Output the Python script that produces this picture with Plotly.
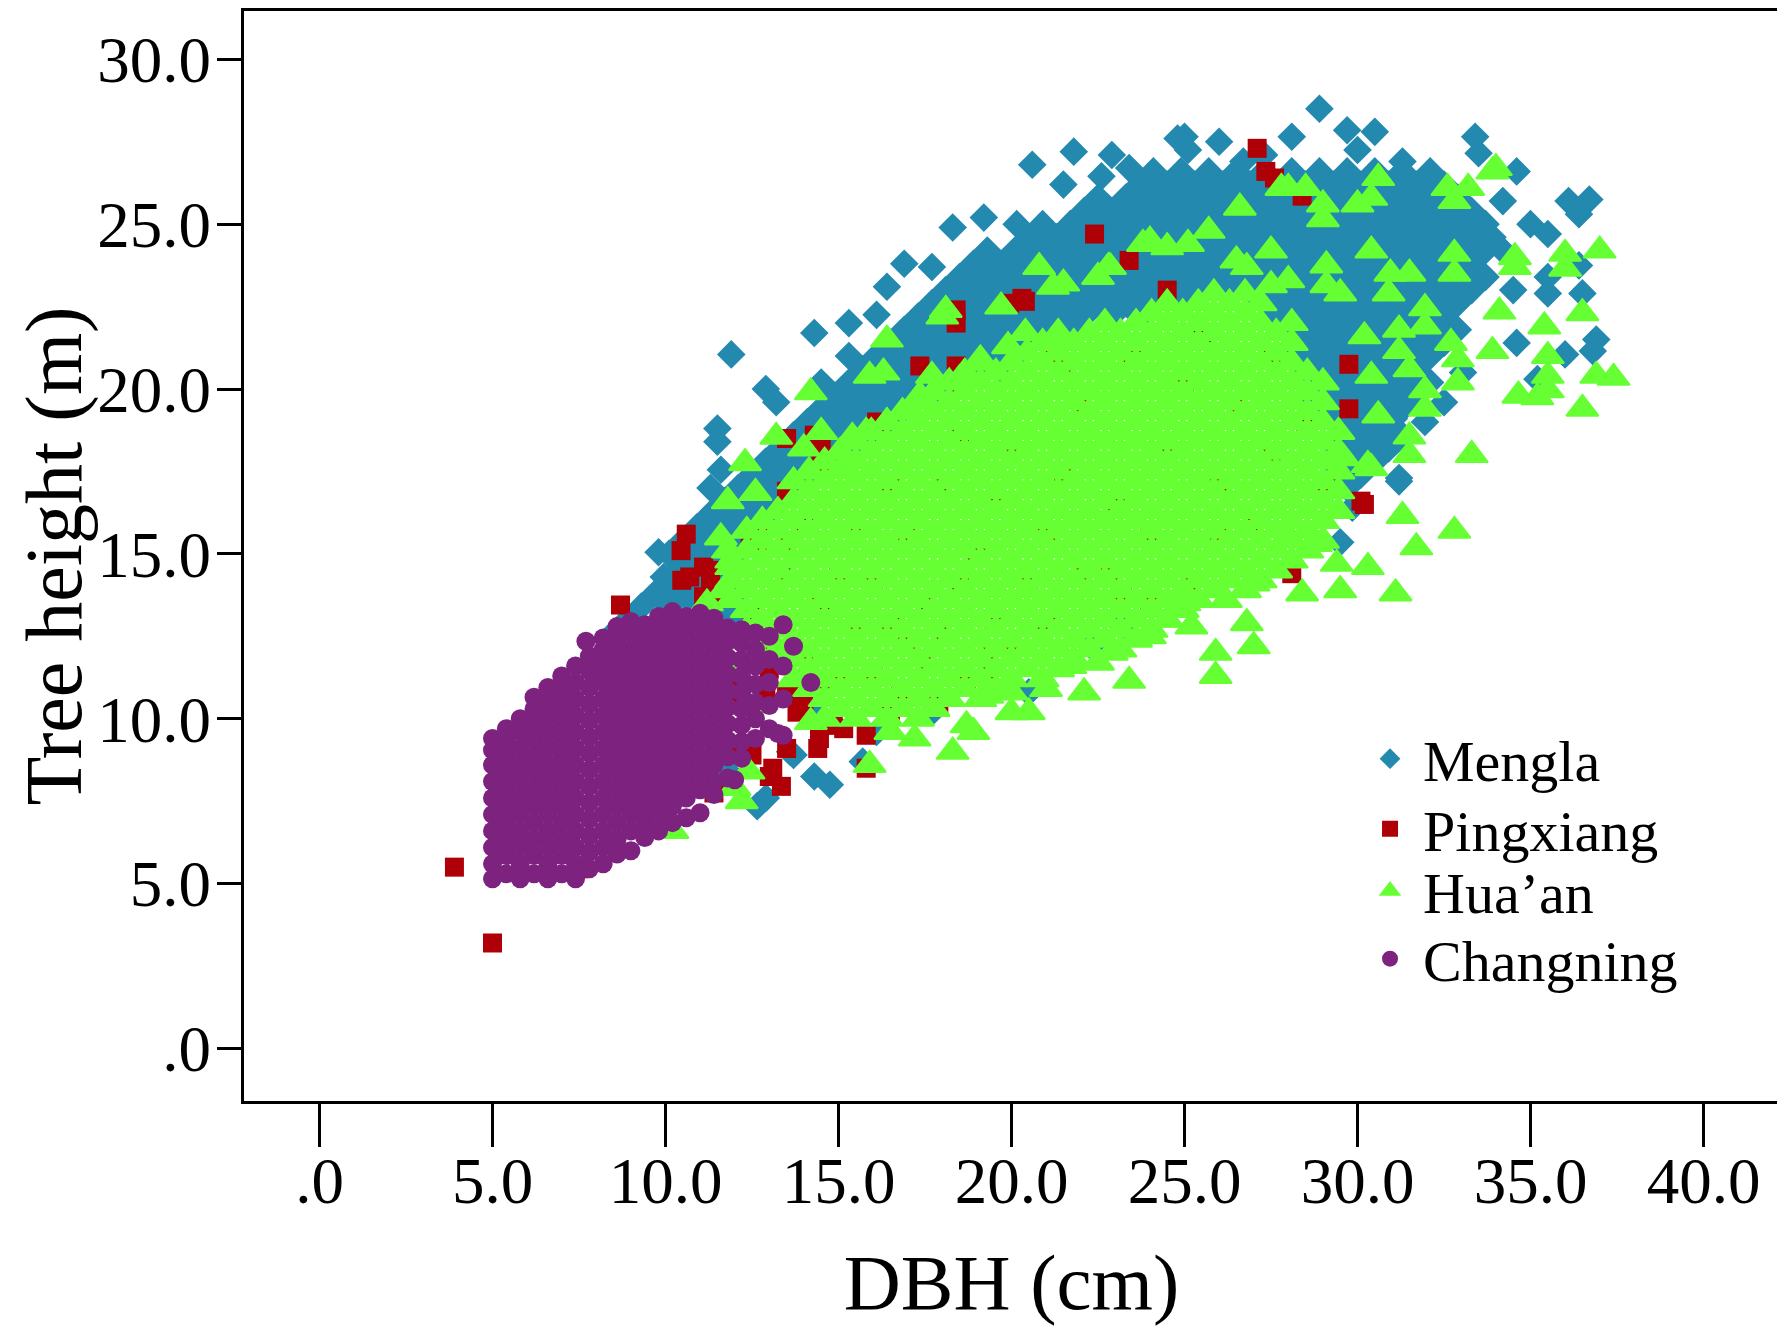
import plotly.graph_objects as go

# Tree height vs DBH (DBH cm, height m)
mengla = [
    (28.9,28.5),(29.7,27.85),(30.5,27.8),(30.0,27.25),(33.4,27.65),(33.5,27.15),(34.6,26.6),(28.1,27.65),
    (25.0,27.65),(26.0,27.5),(24.8,27.6),(21.8,27.2),(22.9,27.1),(25.1,27.25),(27.3,27.1),(31.3,26.9),
    (26.7,26.9),(20.6,26.8),(22.6,26.45),(21.5,26.2),(23.4,26.7),(32.0,26.3),
    (24.1,26.6),(24.9,26.6),(25.7,26.6),(26.5,26.6),(27.3,26.6),(28.1,26.6),(28.9,26.6),(29.7,26.6),(30.5,26.6),(31.3,26.6),(32.1,26.6),
    (23.7,26.2),(24.5,26.2),(25.3,26.2),(26.1,26.2),(26.9,26.2),(27.7,26.2),(28.5,26.2),(29.3,26.2),(30.1,26.2),(30.9,26.2),(31.7,26.2),(32.5,26.2),
    (22.5,25.8),(23.3,25.8),(24.1,25.8),(24.9,25.8),(25.7,25.8),(26.5,25.8),(27.3,25.8),(28.1,25.8),(28.9,25.8),(29.7,25.8),(30.5,25.8),(31.3,25.8),(32.1,25.8),(32.9,25.8),
    (22.1,25.4),(22.9,25.4),(23.7,25.4),(24.5,25.4),(25.3,25.4),(26.1,25.4),(26.9,25.4),(27.7,25.4),(28.5,25.4),(29.3,25.4),(30.1,25.4),(30.9,25.4),(31.7,25.4),(32.5,25.4),(33.3,25.4),
    (20.9,25.0),(21.7,25.0),(22.5,25.0),(23.3,25.0),(24.1,25.0),(24.9,25.0),(25.7,25.0),(26.5,25.0),(27.3,25.0),(28.1,25.0),(28.9,25.0),(29.7,25.0),(30.5,25.0),(31.3,25.0),(32.1,25.0),(32.9,25.0),(33.7,25.0),
    (20.5,24.6),(21.3,24.6),(22.1,24.6),(22.9,24.6),(23.7,24.6),(24.5,24.6),(25.3,24.6),(26.1,24.6),(26.9,24.6),(27.7,24.6),(28.5,24.6),(29.3,24.6),(30.1,24.6),(30.9,24.6),(31.7,24.6),(32.5,24.6),(33.3,24.6),
    (19.3,24.2),(20.1,24.2),(20.9,24.2),(21.7,24.2),(22.5,24.2),(23.3,24.2),(24.1,24.2),(24.9,24.2),(25.7,24.2),(26.5,24.2),(27.3,24.2),(28.1,24.2),(28.9,24.2),(29.7,24.2),(30.5,24.2),(31.3,24.2),(32.1,24.2),(32.9,24.2),(33.7,24.2),
    (18.9,23.8),(19.7,23.8),(20.5,23.8),(21.3,23.8),(22.1,23.8),(22.9,23.8),(23.7,23.8),(24.5,23.8),(25.3,23.8),(26.1,23.8),(26.9,23.8),(27.7,23.8),(28.5,23.8),(29.3,23.8),(30.1,23.8),(30.9,23.8),(31.7,23.8),(32.5,23.8),(33.3,23.8),
    (18.5,23.4),(19.3,23.4),(20.1,23.4),(20.9,23.4),(21.7,23.4),(22.5,23.4),(23.3,23.4),(24.1,23.4),(24.9,23.4),(25.7,23.4),(26.5,23.4),(27.3,23.4),(28.1,23.4),(28.9,23.4),(29.7,23.4),(30.5,23.4),(31.3,23.4),(32.1,23.4),(32.9,23.4),(33.7,23.4),
    (18.1,23.0),(18.9,23.0),(19.7,23.0),(20.5,23.0),(21.3,23.0),(22.1,23.0),(22.9,23.0),(23.7,23.0),(24.5,23.0),(25.3,23.0),(26.1,23.0),(26.9,23.0),(27.7,23.0),(28.5,23.0),(29.3,23.0),(30.1,23.0),(30.9,23.0),(31.7,23.0),(32.5,23.0),(33.3,23.0),
    (17.7,22.6),(18.5,22.6),(19.3,22.6),(20.1,22.6),(20.9,22.6),(21.7,22.6),(22.5,22.6),(23.3,22.6),(24.1,22.6),(24.9,22.6),(27.3,22.6),(28.1,22.6),(28.9,22.6),(29.7,22.6),(30.5,22.6),(31.3,22.6),(32.1,22.6),(32.9,22.6),
    (17.3,22.2),(18.1,22.2),(18.9,22.2),(19.7,22.2),(20.5,22.2),(21.3,22.2),(22.1,22.2),(22.9,22.2),(23.7,22.2),(27.7,22.2),(28.5,22.2),(29.3,22.2),(30.1,22.2),(30.9,22.2),(31.7,22.2),(32.5,22.2),
    (16.9,21.8),(17.7,21.8),(18.5,21.8),(19.3,21.8),(20.1,21.8),(20.9,21.8),(21.7,21.8),(28.1,21.8),(28.9,21.8),(29.7,21.8),(30.5,21.8),(31.3,21.8),(32.1,21.8),(32.9,21.8),
    (16.5,21.4),(17.3,21.4),(18.1,21.4),(18.9,21.4),(19.7,21.4),(20.5,21.4),(21.3,21.4),(28.5,21.4),(29.3,21.4),(30.1,21.4),(30.9,21.4),(31.7,21.4),(32.5,21.4),
    (15.3,21.0),(16.1,21.0),(16.9,21.0),(17.7,21.0),(18.5,21.0),(19.3,21.0),(20.1,21.0),(28.1,21.0),(28.9,21.0),(29.7,21.0),(30.5,21.0),(31.3,21.0),(32.1,21.0),
    (15.7,20.6),(16.5,20.6),(17.3,20.6),(18.1,20.6),(18.9,20.6),(19.7,20.6),(28.5,20.6),(29.3,20.6),(30.1,20.6),(30.9,20.6),(31.7,20.6),
    (14.5,20.2),(15.3,20.2),(16.1,20.2),(16.9,20.2),(17.7,20.2),(18.5,20.2),(28.9,20.2),(29.7,20.2),(30.5,20.2),(31.3,20.2),(32.1,20.2),
    (14.9,19.8),(15.7,19.8),(16.5,19.8),(17.3,19.8),(18.1,19.8),(28.5,19.8),(29.3,19.8),(30.1,19.8),(30.9,19.8),(31.7,19.8),
    (14.5,19.4),(15.3,19.4),(16.1,19.4),(16.9,19.4),(28.9,19.4),(29.7,19.4),(30.5,19.4),(31.3,19.4),
    (14.1,19.0),(14.9,19.0),(15.7,19.0),(16.5,19.0),(28.5,19.0),(29.3,19.0),(30.1,19.0),(30.9,19.0),
    (13.7,18.6),(14.5,18.6),(15.3,18.6),(16.1,18.6),(29.7,18.6),(30.5,18.6),(31.3,18.6),
    (13.3,18.2),(14.1,18.2),(14.9,18.2),(15.7,18.2),(29.3,18.2),(30.1,18.2),(30.9,18.2),
    (12.9,17.8),(13.7,17.8),(14.5,17.8),(29.7,17.8),(30.5,17.8),
    (12.5,17.4),(13.3,17.4),(14.1,17.4),(29.3,17.4),(30.1,17.4),
    (11.3,17.0),(12.1,17.0),(12.9,17.0),(13.7,17.0),(29.7,17.0),
    (11.7,16.6),(12.5,16.6),(13.3,16.6),(11.3,16.2),(12.1,16.2),(12.9,16.2),
    (10.9,15.8),(11.7,15.8),(12.5,15.8),(10.5,15.4),(11.3,15.4),(12.1,15.4),
    (10.1,15.0),(10.9,15.0),(11.7,15.0),(10.5,14.6),(11.3,14.6),(12.1,14.6),
    (10.1,14.2),(10.9,14.2),(11.7,14.2),(9.7,13.8),(10.5,13.8),(11.3,13.8),(12.1,13.8),
    (9.3,13.4),(10.1,13.4),(10.9,13.4),(11.7,13.4),(8.9,13.0),(12.1,13.0),(8.5,12.6),(8.3,12.1),(8.1,11.9),
    (36.1,25.7),(36.7,25.75),(36.4,25.3),(34.2,25.7),(35.0,25.0),(35.5,24.7),(33.9,24.6),(34.2,24.2),
    (36.4,23.75),(35.5,23.4),(35.5,22.9),(36.5,22.9),(34.5,23.0),(36.9,21.5),(36.8,21.15),(36.0,21.05),
    (34.6,21.4),(35.2,20.3),(31.95,19.0),(31.05,19.1),(30.1,18.1),(31.2,17.3),(29.5,15.35),(29.85,16.4),
    (32.5,19.6),(33.05,20.5),(19.2,25.2),(18.3,24.9),(20.15,25.0),(16.9,23.8),(17.7,23.7),(16.4,23.1),
    (15.3,22.0),(14.3,21.7),(16.1,22.25),(11.9,21.05),(12.9,20.0),(13.2,19.6),(11.5,18.8),(11.5,18.4),
    (11.6,17.55),(10.8,15.05),(9.8,15.05),(9.95,14.3),(11.4,16.3),
    (12.65,7.35),(12.9,7.6),(13.6,9.0),(14.3,8.25),(14.75,8.0),(15.7,8.7),(16.1,9.6),(17.7,10.2),
    (20.5,10.8),(19.3,11.4),(23.2,12.8),(22.3,12.2),(11.8,8.4),(12.2,10.6),(14.4,10.2),(13.7,8.9),
    (23.2,13.1),(31.2,17.2),
]

pingxiang = [
    (3.9,5.5),(5.0,3.2),(7.5,5.45),(9.25,7.25),(8.1,11.4),(8.7,13.45),(11.4,7.75),(11.6,7.95),
    (13.0,8.25),(13.35,7.95),(12.5,8.9),(12.15,9.1),(13.1,8.5),(14.45,9.4),(15.15,9.7),(15.8,9.5),
    (15.8,8.5),(13.5,9.1),(14.4,9.1),(13.8,10.2),(13.9,10.8),(14.85,9.8),(14.6,11.1),(14.0,10.5),
    (13.5,10.7),(12.9,10.8),(12.15,11.0),(13.0,12.4),(12.5,13.1),(11.55,13.7),(11.1,13.7),(11.6,13.9),
    (11.3,14.1),(11.1,14.6),(10.47,14.2),(10.7,14.3),(10.6,15.6),(10.45,15.1),(11.3,14.5),(12.45,15.6),
    (12.7,15.75),(12.65,15.2),(12.8,15.75),(13.5,15.2),(13.5,16.75),(13.5,16.9),(14.5,17.7),(13.5,18.5),
    (14.3,18.6),(14.5,18.2),(16.1,19.0),(17.35,20.7),(18.4,20.7),(18.5,20.1),(18.4,22.4),(18.4,22.0),
    (19.95,22.6),(20.4,22.66),(20.3,22.75),(21.2,20.9),(21.5,20.7),(22.4,24.7),(23.4,23.9),(24.5,23.0),
    (27.1,27.3),(27.35,26.6),(27.6,26.4),(28.4,25.85),(16.8,10.8),(17.5,11.6),(17.9,10.4),(18.7,11.2),
    (19.3,11.5),(19.3,11.9),(23.2,13.85),(22.85,14.45),(25.2,14.2),(28.1,14.4),(30.1,16.6),(30.2,16.5),
    (29.1,17.2),(29.75,19.4),(29.75,20.75),(11.8,10.6),(16.5,10.2),
    (13.0,11.5),(14.0,12.0),(15.0,11.0),(15.5,12.5),(16.0,11.5),(16.5,13.0),(17.0,12.2),(14.5,13.5),
    (13.5,14.5),(15.0,14.5),(16.0,14.0),(17.5,13.5),(18.0,12.5),(18.5,14.0),(19.5,13.0),(20.0,12.0),
    (19.0,15.0),(20.5,14.0),(21.0,13.0),(14.0,15.8),(15.5,16.0),(17.0,15.5),(16.5,17.0),(18.0,17.0),
    (19.5,16.5),(21.0,15.5),(22.0,14.5),(20.0,18.0),(18.5,18.5),(21.5,17.5),(23.0,16.5),(24.0,15.5),
    (22.0,19.5),(24.5,18.0),(26.0,17.0),(25.0,20.0),(26.5,19.5),(27.5,18.0),(27.0,16.0),(28.5,19.0),
    (23.5,21.0),(25.5,21.5),(27.5,21.0),(26.0,15.5),(24.0,13.5),
]

hua_an = [
    (14.6,10.0),(15.5,10.0),(16.4,10.0),(17.3,10.0),
    (15.05,10.3),(15.95,10.3),(16.85,10.3),(17.75,10.3),
    (14.6,10.6),(15.5,10.6),(16.4,10.6),(17.3,10.6),(18.2,10.6),(19.1,10.6),
    (14.15,10.9),(15.05,10.9),(15.95,10.9),(16.85,10.9),(17.75,10.9),(18.65,10.9),(19.55,10.9),
    (13.7,11.2),(14.6,11.2),(15.5,11.2),(16.4,11.2),(17.3,11.2),(18.2,11.2),(19.1,11.2),(20.0,11.2),(20.9,11.2),
    (14.15,11.5),(15.05,11.5),(15.95,11.5),(16.85,11.5),(17.75,11.5),(18.65,11.5),(19.55,11.5),(20.45,11.5),(21.35,11.5),
    (12.8,11.8),(13.7,11.8),(14.6,11.8),(15.5,11.8),(16.4,11.8),(17.3,11.8),(18.2,11.8),(19.1,11.8),(20.0,11.8),(20.9,11.8),(21.8,11.8),
    (13.25,12.1),(14.15,12.1),(15.05,12.1),(15.95,12.1),(16.85,12.1),(17.75,12.1),(18.65,12.1),(19.55,12.1),(20.45,12.1),(21.35,12.1),(22.25,12.1),(23.15,12.1),
    (12.8,12.4),(13.7,12.4),(14.6,12.4),(15.5,12.4),(16.4,12.4),(17.3,12.4),(18.2,12.4),(19.1,12.4),(20.0,12.4),(20.9,12.4),(21.8,12.4),(22.7,12.4),(23.6,12.4),
    (12.35,12.7),(13.25,12.7),(14.15,12.7),(15.05,12.7),(15.95,12.7),(16.85,12.7),(17.75,12.7),(18.65,12.7),(19.55,12.7),(20.45,12.7),(21.35,12.7),(22.25,12.7),(23.15,12.7),(24.05,12.7),
    (12.8,13.0),(13.7,13.0),(14.6,13.0),(15.5,13.0),(16.4,13.0),(17.3,13.0),(18.2,13.0),(19.1,13.0),(20.0,13.0),(20.9,13.0),(21.8,13.0),(22.7,13.0),(23.6,13.0),(24.5,13.0),
    (12.35,13.3),(13.25,13.3),(14.15,13.3),(15.05,13.3),(15.95,13.3),(16.85,13.3),(17.75,13.3),(18.65,13.3),(19.55,13.3),(20.45,13.3),(21.35,13.3),(22.25,13.3),(23.15,13.3),(24.05,13.3),(24.95,13.3),
    (11.9,13.6),(12.8,13.6),(13.7,13.6),(14.6,13.6),(15.5,13.6),(16.4,13.6),(17.3,13.6),(18.2,13.6),(19.1,13.6),(20.0,13.6),(20.9,13.6),(21.8,13.6),(22.7,13.6),(23.6,13.6),(24.5,13.6),(25.4,13.6),
    (12.35,13.9),(13.25,13.9),(14.15,13.9),(15.05,13.9),(15.95,13.9),(16.85,13.9),(17.75,13.9),(18.65,13.9),(19.55,13.9),(20.45,13.9),(21.35,13.9),(22.25,13.9),(23.15,13.9),(24.05,13.9),(24.95,13.9),(25.85,13.9),(26.75,13.9),
    (11.9,14.2),(12.8,14.2),(13.7,14.2),(14.6,14.2),(15.5,14.2),(16.4,14.2),(17.3,14.2),(18.2,14.2),(19.1,14.2),(20.0,14.2),(20.9,14.2),(21.8,14.2),(22.7,14.2),(23.6,14.2),(24.5,14.2),(25.4,14.2),(26.3,14.2),(27.2,14.2),
    (12.35,14.5),(13.25,14.5),(14.15,14.5),(15.05,14.5),(15.95,14.5),(16.85,14.5),(17.75,14.5),(18.65,14.5),(19.55,14.5),(20.45,14.5),(21.35,14.5),(22.25,14.5),(23.15,14.5),(24.05,14.5),(24.95,14.5),(25.85,14.5),(26.75,14.5),(27.65,14.5),
    (11.9,14.8),(12.8,14.8),(13.7,14.8),(14.6,14.8),(15.5,14.8),(16.4,14.8),(17.3,14.8),(18.2,14.8),(19.1,14.8),(20.0,14.8),(20.9,14.8),(21.8,14.8),(22.7,14.8),(23.6,14.8),(24.5,14.8),(25.4,14.8),(26.3,14.8),(27.2,14.8),(28.1,14.8),
    (12.35,15.1),(13.25,15.1),(14.15,15.1),(15.05,15.1),(15.95,15.1),(16.85,15.1),(17.75,15.1),(18.65,15.1),(19.55,15.1),(20.45,15.1),(21.35,15.1),(22.25,15.1),(23.15,15.1),(24.05,15.1),(24.95,15.1),(25.85,15.1),(26.75,15.1),(27.65,15.1),(28.55,15.1),
    (12.8,15.4),(13.7,15.4),(14.6,15.4),(15.5,15.4),(16.4,15.4),(17.3,15.4),(18.2,15.4),(19.1,15.4),(20.0,15.4),(20.9,15.4),(21.8,15.4),(22.7,15.4),(23.6,15.4),(24.5,15.4),(25.4,15.4),(26.3,15.4),(27.2,15.4),(28.1,15.4),(29.0,15.4),
    (12.35,15.7),(13.25,15.7),(14.15,15.7),(15.05,15.7),(15.95,15.7),(16.85,15.7),(17.75,15.7),(18.65,15.7),(19.55,15.7),(20.45,15.7),(21.35,15.7),(22.25,15.7),(23.15,15.7),(24.05,15.7),(24.95,15.7),(25.85,15.7),(26.75,15.7),(27.65,15.7),(28.55,15.7),
    (12.8,16.0),(13.7,16.0),(14.6,16.0),(15.5,16.0),(16.4,16.0),(17.3,16.0),(18.2,16.0),(19.1,16.0),(20.0,16.0),(20.9,16.0),(21.8,16.0),(22.7,16.0),(23.6,16.0),(24.5,16.0),(25.4,16.0),(26.3,16.0),(27.2,16.0),(28.1,16.0),(29.0,16.0),
    (13.25,16.3),(14.15,16.3),(15.05,16.3),(15.95,16.3),(16.85,16.3),(17.75,16.3),(18.65,16.3),(19.55,16.3),(20.45,16.3),(21.35,16.3),(22.25,16.3),(23.15,16.3),(24.05,16.3),(24.95,16.3),(25.85,16.3),(26.75,16.3),(27.65,16.3),(28.55,16.3),(29.45,16.3),
    (13.7,16.6),(14.6,16.6),(15.5,16.6),(16.4,16.6),(17.3,16.6),(18.2,16.6),(19.1,16.6),(20.0,16.6),(20.9,16.6),(21.8,16.6),(22.7,16.6),(23.6,16.6),(24.5,16.6),(25.4,16.6),(26.3,16.6),(27.2,16.6),(28.1,16.6),(29.0,16.6),
    (14.15,16.9),(15.05,16.9),(15.95,16.9),(16.85,16.9),(17.75,16.9),(18.65,16.9),(19.55,16.9),(20.45,16.9),(21.35,16.9),(22.25,16.9),(23.15,16.9),(24.05,16.9),(24.95,16.9),(25.85,16.9),(26.75,16.9),(27.65,16.9),(28.55,16.9),(29.45,16.9),
    (13.7,17.2),(14.6,17.2),(15.5,17.2),(16.4,17.2),(17.3,17.2),(18.2,17.2),(19.1,17.2),(20.0,17.2),(20.9,17.2),(21.8,17.2),(22.7,17.2),(23.6,17.2),(24.5,17.2),(25.4,17.2),(26.3,17.2),(27.2,17.2),(28.1,17.2),(29.0,17.2),
    (14.15,17.5),(15.05,17.5),(15.95,17.5),(16.85,17.5),(17.75,17.5),(18.65,17.5),(19.55,17.5),(20.45,17.5),(21.35,17.5),(22.25,17.5),(23.15,17.5),(24.05,17.5),(24.95,17.5),(25.85,17.5),(26.75,17.5),(27.65,17.5),(28.55,17.5),(29.45,17.5),
    (14.6,17.8),(15.5,17.8),(16.4,17.8),(17.3,17.8),(18.2,17.8),(19.1,17.8),(20.0,17.8),(20.9,17.8),(21.8,17.8),(22.7,17.8),(23.6,17.8),(24.5,17.8),(25.4,17.8),(26.3,17.8),(27.2,17.8),(28.1,17.8),(29.0,17.8),
    (15.05,18.1),(15.95,18.1),(16.85,18.1),(17.75,18.1),(18.65,18.1),(19.55,18.1),(20.45,18.1),(21.35,18.1),(22.25,18.1),(23.15,18.1),(24.05,18.1),(24.95,18.1),(25.85,18.1),(26.75,18.1),(27.65,18.1),(28.55,18.1),(29.45,18.1),
    (15.5,18.4),(16.4,18.4),(17.3,18.4),(18.2,18.4),(19.1,18.4),(20.0,18.4),(20.9,18.4),(21.8,18.4),(22.7,18.4),(23.6,18.4),(24.5,18.4),(25.4,18.4),(26.3,18.4),(27.2,18.4),(28.1,18.4),(29.0,18.4),
    (15.95,18.7),(16.85,18.7),(17.75,18.7),(18.65,18.7),(19.55,18.7),(20.45,18.7),(21.35,18.7),(22.25,18.7),(23.15,18.7),(24.05,18.7),(24.95,18.7),(25.85,18.7),(26.75,18.7),(27.65,18.7),(28.55,18.7),(29.45,18.7),
    (16.4,19.0),(17.3,19.0),(18.2,19.0),(19.1,19.0),(20.0,19.0),(20.9,19.0),(21.8,19.0),(22.7,19.0),(23.6,19.0),(24.5,19.0),(25.4,19.0),(26.3,19.0),(27.2,19.0),(28.1,19.0),(29.0,19.0),
    (16.85,19.3),(17.75,19.3),(18.65,19.3),(19.55,19.3),(20.45,19.3),(21.35,19.3),(22.25,19.3),(23.15,19.3),(24.05,19.3),(24.95,19.3),(25.85,19.3),(26.75,19.3),(27.65,19.3),(28.55,19.3),
    (17.3,19.6),(18.2,19.6),(19.1,19.6),(20.0,19.6),(20.9,19.6),(21.8,19.6),(22.7,19.6),(23.6,19.6),(24.5,19.6),(25.4,19.6),(26.3,19.6),(27.2,19.6),(28.1,19.6),(29.0,19.6),
    (17.75,19.9),(18.65,19.9),(19.55,19.9),(20.45,19.9),(21.35,19.9),(22.25,19.9),(23.15,19.9),(24.05,19.9),(24.95,19.9),(25.85,19.9),(26.75,19.9),(27.65,19.9),(28.55,19.9),
    (18.2,20.2),(19.1,20.2),(20.0,20.2),(20.9,20.2),(21.8,20.2),(22.7,20.2),(23.6,20.2),(24.5,20.2),(25.4,20.2),(26.3,20.2),(27.2,20.2),(28.1,20.2),(29.0,20.2),
    (18.65,20.5),(19.55,20.5),(20.45,20.5),(21.35,20.5),(22.25,20.5),(23.15,20.5),(24.05,20.5),(24.95,20.5),(25.85,20.5),(26.75,20.5),(27.65,20.5),(28.55,20.5),
    (19.1,20.8),(20.0,20.8),(20.9,20.8),(21.8,20.8),(22.7,20.8),(23.6,20.8),(24.5,20.8),(25.4,20.8),(26.3,20.8),(27.2,20.8),(28.1,20.8),
    (20.45,21.1),(21.35,21.1),(22.25,21.1),(23.15,21.1),(24.05,21.1),(24.95,21.1),(25.85,21.1),(26.75,21.1),(27.65,21.1),
    (20.9,21.4),(21.8,21.4),(22.7,21.4),(23.6,21.4),(24.5,21.4),(25.4,21.4),(26.3,21.4),(27.2,21.4),(28.1,21.4),
    (21.35,21.7),(22.25,21.7),(23.15,21.7),(24.05,21.7),(24.95,21.7),(25.85,21.7),(26.75,21.7),(27.65,21.7),
    (22.7,22.0),(23.6,22.0),(24.5,22.0),(25.4,22.0),(26.3,22.0),(27.2,22.0),(28.1,22.0),
    (24.05,22.3),(24.95,22.3),(25.85,22.3),(26.75,22.3),
    (24.5,22.6),(25.4,22.6),(26.3,22.6),(27.2,22.6),(25.85,22.9),(26.75,22.9),
    (10.2,6.6),(12.2,7.5),(12.4,8.4),(12.0,7.9),(15.9,8.6),(18.3,9.0),(18.9,9.6),(18.7,9.8),
    (20.0,10.2),(20.5,10.2),(19.3,10.7),(20.0,10.8),(21.0,10.9),(22.1,10.8),(21.7,11.6),(22.5,11.7),
    (22.9,12.0),(23.4,11.15),(24.0,12.5),(24.5,13.0),(25.2,12.8),(25.0,13.5),(25.9,11.3),(25.9,12.0),
    (27.0,12.2),(26.8,12.9),(26.2,13.6),(27.0,14.1),(28.4,13.8),(29.5,13.9),(31.1,13.8),(30.3,14.6),
    (29.4,14.7),(31.7,15.2),(31.3,16.15),(32.8,15.7),(28.0,15.5),(28.8,15.3),(30.4,17.6),(33.3,18.0),
    (16.5,9.6),(17.2,9.4),(14.2,9.9),(12.6,10.4),(11.9,11.7),(11.5,12.6),(11.2,13.5),(11.7,13.9),
    (11.9,14.6),(11.8,15.1),(11.6,15.5),(11.8,16.6),(12.3,17.75),(12.6,16.85),(13.2,18.55),(14.0,18.2),
    (14.5,18.7),(15.4,18.55),(15.8,18.7),(15.1,17.6),(14.2,19.9),(15.9,20.4),(16.3,20.5),(16.4,21.5),
    (17.1,19.3),(17.35,19.8),(17.7,20.4),(18.5,20.3),(19.1,20.9),(19.9,21.3),(20.4,21.7),(21.3,21.4),
    (18.0,22.2),(20.8,23.7),(21.2,23.1),(22.5,23.4),(22.8,23.7),(24.0,24.5),(24.5,24.3),(25.1,24.4),
    (34.0,26.7),(37.0,24.2),(36.0,24.1),(36.0,23.65),(34.55,24.0),(34.55,23.7),(34.1,22.35),(36.5,22.3),
    (35.4,21.9),(35.5,21.0),(35.5,20.4),(35.5,19.96),(36.9,20.4),(37.4,20.34),(34.65,19.8),(35.2,19.75),
    (36.5,19.4),(31.5,18.56),(31.5,18.0),(29.6,17.9),(30.3,17.7),(32.9,20.2),(32.9,20.9),(33.9,21.15),
    (32.7,21.4),(31.95,22.45),(31.95,21.9),(31.2,21.8),(31.2,21.15),(31.95,19.96),(31.95,19.4),(30.9,22.9),
    (30.95,23.5),(31.5,23.5),(30.4,24.2),(32.8,25.7),(32.8,24.1),(32.8,23.5),(32.6,26.1),(33.2,26.1),
    (30.6,26.4),(30.4,25.8),(30.0,25.6),(29.0,25.6),(29.0,25.15),(28.5,26.1),(28.0,26.1),(26.6,25.5),
    (25.7,24.8),(27.5,24.2),(26.5,23.9),(26.8,23.7),(27.5,23.15),(29.1,23.75),(29.1,23.15),(29.5,22.9),
    (28.0,23.3),(33.9,26.6),(27.8,26.1),(23.8,24.4),(22.85,23.7),(21.5,23.2),(19.7,22.5),(18.1,22.4),
    (30.4,20.4),(30.6,19.2),(30.2,21.6),(31.5,20.6),
]

changning = [
    (5.0,5.15),(5.0,5.6),(5.0,6.1),(5.0,6.6),(5.0,7.1),(5.0,7.6),(5.0,8.1),(5.0,8.6),(5.0,9.05),(5.0,9.4),
    (5.4,5.3),(5.4,5.85),(5.4,6.35),(5.4,6.85),(5.4,7.35),(5.4,7.85),(5.4,8.35),(5.4,8.85),(5.4,9.3),(5.4,9.7),
    (5.8,5.15),(5.8,5.6),(5.8,6.1),(5.8,6.6),(5.8,7.1),(5.8,7.6),(5.8,8.1),(5.8,8.6),(5.8,9.1),(5.8,9.6),(5.8,10.0),
    (6.2,5.3),(6.2,5.85),(6.2,6.35),(6.2,6.85),(6.2,7.35),(6.2,7.85),(6.2,8.35),(6.2,8.85),(6.2,9.35),(6.2,9.85),(6.2,10.3),(6.2,10.65),
    (6.6,5.15),(6.6,5.6),(6.6,6.1),(6.6,6.6),(6.6,7.1),(6.6,7.6),(6.6,8.1),(6.6,8.6),(6.6,9.1),(6.6,9.6),(6.6,10.1),(6.6,10.55),(6.6,10.95),
    (7.0,5.3),(7.0,5.85),(7.0,6.35),(7.0,6.85),(7.0,7.35),(7.0,7.85),(7.0,8.35),(7.0,8.85),(7.0,9.35),(7.0,9.85),(7.0,10.35),(7.0,10.85),(7.0,11.3),
    (7.4,5.15),(7.4,5.6),(7.4,6.1),(7.4,6.6),(7.4,7.1),(7.4,7.6),(7.4,8.1),(7.4,8.6),(7.4,9.1),(7.4,9.6),(7.4,10.1),(7.4,10.6),(7.4,11.1),(7.4,11.6),
    (7.8,5.45),(7.8,5.95),(7.8,6.45),(7.8,6.95),(7.8,7.45),(7.8,7.95),(7.8,8.45),(7.8,8.95),(7.8,9.45),(7.8,9.95),(7.8,10.45),(7.8,10.95),(7.8,11.45),(7.8,11.9),(7.7,12.35),
    (8.2,5.6),(8.2,6.1),(8.2,6.6),(8.2,7.1),(8.2,7.6),(8.2,8.1),(8.2,8.6),(8.2,9.1),(8.2,9.6),(8.2,10.1),(8.2,10.6),(8.2,11.1),(8.2,11.6),(8.2,12.1),(8.2,12.45),
    (8.6,5.9),(8.6,6.35),(8.6,6.85),(8.6,7.35),(8.6,7.85),(8.6,8.35),(8.6,8.85),(8.6,9.35),(8.6,9.85),(8.6,10.35),(8.6,10.85),(8.6,11.35),(8.6,11.85),(8.6,12.3),(8.6,12.8),
    (9.0,6.0),(9.0,6.6),(9.0,7.1),(9.0,7.6),(9.0,8.1),(9.0,8.6),(9.0,9.1),(9.0,9.6),(9.0,10.1),(9.0,10.6),(9.0,11.1),(9.0,11.6),(9.0,12.1),(9.0,12.6),(9.0,12.95),
    (9.4,6.4),(9.4,6.85),(9.4,7.35),(9.4,7.85),(9.4,8.35),(9.4,8.85),(9.4,9.35),(9.4,9.85),(9.4,10.35),(9.4,10.85),(9.4,11.35),(9.4,11.85),(9.4,12.35),(9.4,12.85),
    (9.8,6.6),(9.8,7.1),(9.8,7.6),(9.8,8.1),(9.8,8.6),(9.8,9.1),(9.8,9.6),(9.8,10.1),(9.8,10.6),(9.8,11.1),(9.8,11.6),(9.8,12.1),(9.8,12.6),(9.8,13.1),
    (10.2,6.85),(10.2,7.35),(10.2,7.85),(10.2,8.35),(10.2,8.85),(10.2,9.35),(10.2,9.85),(10.2,10.35),(10.2,10.85),(10.2,11.35),(10.2,11.85),(10.2,12.35),(10.2,12.85),(10.2,13.25),
    (10.6,7.0),(10.6,7.6),(10.6,8.1),(10.6,8.6),(10.6,9.1),(10.6,9.6),(10.6,10.1),(10.6,10.6),(10.6,11.1),(10.6,11.6),(10.6,12.1),(10.6,12.6),(10.6,13.1),
    (11.0,7.15),(11.0,7.85),(11.0,8.35),(11.0,8.85),(11.0,9.35),(11.0,9.85),(11.0,10.35),(11.0,10.85),(11.0,11.35),(11.0,11.85),(11.0,12.35),(11.0,12.85),(11.0,13.2),
    (11.4,7.7),(11.4,8.1),(11.4,8.6),(11.4,9.1),(11.4,9.6),(11.4,10.1),(11.4,10.6),(11.4,11.1),(11.4,11.6),(11.4,12.1),(11.4,12.6),(11.4,13.05),
    (11.8,8.2),(11.8,8.85),(11.8,9.35),(11.8,9.85),(11.8,10.35),(11.8,10.85),(11.8,11.35),(11.8,11.85),(11.8,12.35),(11.8,12.75),
    (12.2,8.8),(12.2,9.3),(12.2,9.8),(12.2,10.3),(12.2,10.8),(12.2,11.3),(12.2,11.8),(12.2,12.3),(12.2,12.7),
    (12.6,9.4),(12.6,10.0),(12.6,10.5),(12.6,11.05),(12.6,11.6),(12.6,12.1),(12.6,12.6),
    (13.0,9.7),(13.0,10.4),(13.0,11.1),(13.0,11.8),(13.0,12.5),
    (13.4,9.5),(13.4,10.6),(13.4,11.6),(13.4,12.85),
    (14.2,11.1),(13.7,12.2),(12.0,8.15),(13.25,9.55),
]

sites = ["Mengla", "Pingxiang", "Hua\u2019an", "Changning"]
series = [mengla, pingxiang, hua_an, changning]

x_ticks = [0, 5, 10, 15, 20, 25, 30, 35, 40]
x_tick_text = [".0", "5.0", "10.0", "15.0", "20.0", "25.0", "30.0", "35.0", "40.0"]
y_ticks = [0, 5, 10, 15, 20, 25, 30]
y_tick_text = [".0", "5.0", "10.0", "15.0", "20.0", "25.0", "30.0"]

symbols = ["diamond", "square", "triangle-up", "circle"]
sizes = [22, 19, 28, 19]
outline = [0, 0, 2, 0]
colors = ["#2389AF", "#AF0008", "#66FF33", "#7D237F"]
legend_ids = ["legend", "legend2", "legend3", "legend4"]
legend_y = [0.3138, 0.2495, 0.1927, 0.1303]

FONT = "Liberation Serif"

fig = go.Figure()
for name, pts, sym, sz, lw, col, lg in zip(sites, series, symbols, sizes, outline, colors, legend_ids):
    fig.add_trace(go.Scatter(
        x=[p[0] for p in pts],
        y=[p[1] for p in pts],
        mode="markers",
        name=name,
        legend=lg,
        marker=dict(symbol=sym, size=sz, color=col, line=dict(width=lw, color=col)),
    ))

# page body has an 8px margin, so the figure is sized to fit inside it
fig.update_layout(
    template="none",
    width=1776,
    height=1318,
    margin=dict(l=236, r=5, t=3, b=225),
    paper_bgcolor="white",
    plot_bgcolor="white",
    font=dict(family=FONT, color="black"),
    showlegend=True,
)
for lg, ly in zip(legend_ids, legend_y):
    fig.update_layout({lg: dict(
        x=0.7251, y=ly, xanchor="left", yanchor="middle",
        itemwidth=56,
        font=dict(family=FONT, size=58, color="black"),
        bgcolor="rgba(0,0,0,0)", borderwidth=0,
    )})

fig.update_xaxes(
    range=[-2.182, 42.182],
    tickvals=x_ticks, ticktext=x_tick_text,
    ticks="outside", ticklen=43, tickwidth=3, tickcolor="black",
    ticklabelstandoff=-22,
    showline=True, linewidth=3, linecolor="black", mirror=True,
    showgrid=False, zeroline=False, automargin=False,
    tickfont=dict(family=FONT, size=65, color="black"),
    title=dict(text="DBH (cm)", font=dict(family=FONT, size=79, color="black"), standoff=55),
)
fig.update_yaxes(
    range=[-1.592, 31.465],
    tickvals=y_ticks, ticktext=y_tick_text,
    ticks="outside", ticklen=24, tickwidth=3, tickcolor="black",
    ticklabelstandoff=-7,
    showline=True, linewidth=3, linecolor="black", mirror=True,
    showgrid=False, zeroline=False, automargin=False,
    tickfont=dict(family=FONT, size=65, color="black"),
)
fig.add_annotation(
    text="Tree height (m)", textangle=-90, showarrow=False,
    xref="paper", yref="paper", x=-0.1235, y=0.5,
    xanchor="center", yanchor="middle",
    font=dict(family=FONT, size=80, color="black"),
)

fig.write_html("out.html")
